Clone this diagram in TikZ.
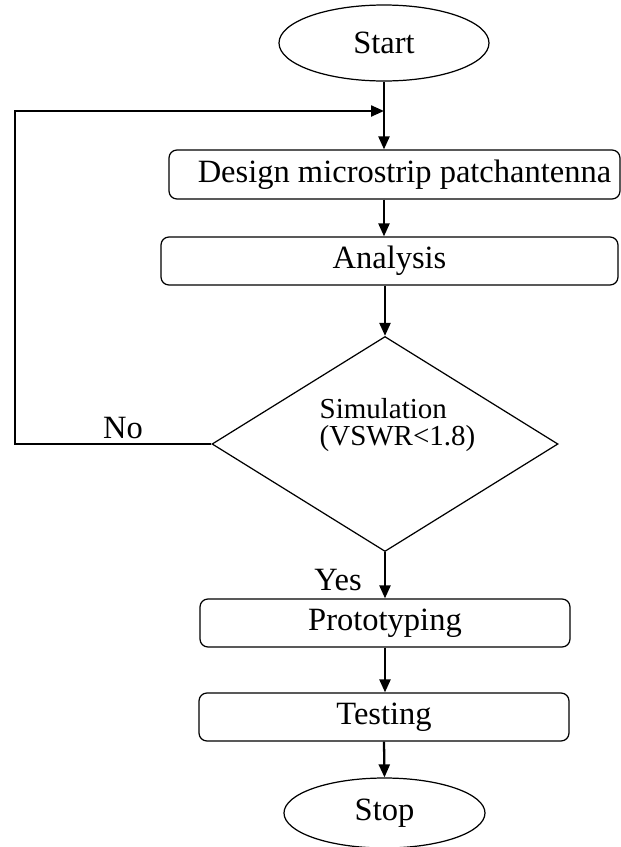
\documentclass[tikz,border=0pt]{standalone}
\usepackage{fontspec}
\setmainfont{Liberation Serif}
\usetikzlibrary{arrows.meta}
\usetikzlibrary{shapes.geometric}
\tikzset{
	every path/.style={line width=0.7pt},
	align=center,
	txt/.style={
		font=\fontsize{18.5}{20}\selectfont,
	},
	terminal/.style={
		draw,
		ellipse,
		txt,
		inner sep=0pt,
	},
	process/.style={
		draw,
		rectangle,
		rounded corners=1.6mm,
		txt,
		minimum height=0.96cm,
		inner sep=0pt,
	},
	decision/.style={
		draw,
		diamond,
		minimum width=6.92cm,
		minimum height=4.3cm,
		inner sep=0pt,
	},
	flow/.style={
		line width=1.3pt,
		-{Triangle[length=0.26cm,width=0.22cm]}
	},
}

\begin{document}
\begin{tikzpicture}
		\useasboundingbox (0,0) rectangle (12.42,-16.94);

		\node[terminal,minimum width=4.2cm,minimum height=1.52cm] (start) at (7.68,-0.86) {Start};
		\node[process,minimum width=9.02cm,minimum height=0.98cm] (design) at (7.89,-3.49) {\hspace*{0.4cm}Design microstrip patchantenna};
		\node[process,minimum width=9.14cm] (analysis) at (7.79,-5.22) {Analysis};
		\node[decision] (sim) at (7.70,-8.88) {};
		\node[font=\fontsize{16.5}{15.5}\selectfont,align=left] (simtxt) at (7.95,-8.50) {Simulation\\(VSWR<1.8)};
		\node[process,minimum width=7.4cm] (proto) at (7.70,-12.46) {Prototyping};
		\node[process,minimum width=7.4cm] (test) at (7.68,-14.34) {Testing};
		\node[terminal,minimum width=4.02cm,minimum height=1.4cm] (stop) at (7.69,-16.26) {Stop};

		\node[txt] (no) at (2.46,-8.56) {No};
		\node[txt] (yes) at (6.76,-11.60) {Yes};

		% loop back to the design step
		\coordinate (back) at (0.3,-2.22);

		\draw[flow] (start.south) -- (design.north -| start.south);
		\draw[flow] (design.south -| start.south) -- (analysis.north -| start.south);
		\draw[flow] (analysis.south -| sim.north) -- (sim.north);
		\draw[flow] (sim.west) -| (back) -- (start.south |- back);
		\draw[flow] (sim.south) -- (proto.north -| sim.south);
		\draw[flow] (proto.south) -- (test.north -| proto.south);
		\draw[flow] (test.south) -- (stop.north);

	\end{tikzpicture}
\end{document}
